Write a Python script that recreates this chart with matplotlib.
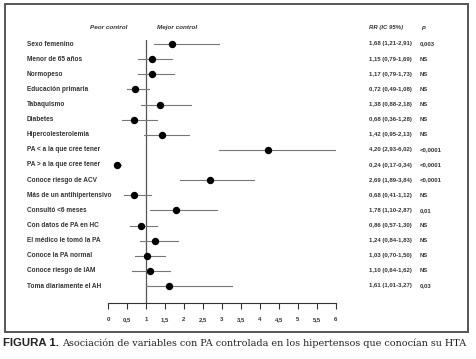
import matplotlib
matplotlib.use("Agg")
import matplotlib.pyplot as plt
from matplotlib.patches import Rectangle

labels = [
    "Sexo femenino",
    "Menor de 65 años",
    "Normopeso",
    "Educación primaria",
    "Tabaquismo",
    "Diabetes",
    "Hipercolesterolemia",
    "PA < a la que cree tener",
    "PA > a la que cree tener",
    "Conoce riesgo de ACV",
    "Más de un antihipertensivo",
    "Consultó <6 meses",
    "Con datos de PA en HC",
    "El médico le tomó la PA",
    "Conoce la PA normal",
    "Conoce riesgo de IAM",
    "Toma diariamente el AH",
]
rr = [1.68, 1.15, 1.17, 0.72, 1.38, 0.68, 1.42, 4.20, 0.24, 2.69,
      0.68, 1.78, 0.86, 1.24, 1.03, 1.10, 1.61]
lo = [1.21, 0.79, 0.79, 0.49, 0.88, 0.36, 0.95, 2.93, 0.17, 1.89,
      0.41, 1.10, 0.57, 0.84, 0.70, 0.64, 1.01]
hi = [2.91, 1.69, 1.73, 1.08, 2.18, 1.28, 2.13, 6.02, 0.34, 3.84,
      1.12, 2.87, 1.30, 1.83, 1.50, 1.62, 3.27]
pvals = ["0,003", "NS", "NS", "NS", "NS", "NS", "NS", "<0,0001", "<0,0001",
         "<0,0001", "NS", "0,01", "NS", "NS", "NS", "NS", "0,03"]
xticks = [0, 0.5, 1, 1.5, 2, 2.5, 3, 3.5, 4, 4.5, 5, 5.5, 6]
xticklabels = ["0", "0,5", "1", "1,5", "2", "2,5", "3", "3,5", "4", "4,5",
               "5", "5,5", "6"]


def fmt(v):
    return ("%.2f" % v).replace(".", ",")


W, H = 476, 359
fig = plt.figure(figsize=(W / 100, H / 100), dpi=100)

# axes placed in pixel terms: x 0 -> 108px, 6 -> 336px; rows 44px..286px
ax_l, ax_r = 108, 336
ax_t, ax_b = 40, 303
ax = fig.add_axes([ax_l / W, 1 - ax_b / H, (ax_r - ax_l) / W, (ax_b - ax_t) / H])
row_px = (286 - 44) / 16
ax.set_xlim(0, 6)
ax.set_ylim(16 + (ax_b - 286) / row_px, -(44 - ax_t) / row_px)
px = 6 / (ax_r - ax_l)  # data units per pixel in x


def xd(p):
    return (p - ax_l) * px


font = "Liberation Sans"
for s in ["top", "right", "left"]:
    ax.spines[s].set_visible(False)
ax.spines["bottom"].set_color("#333333")
ax.spines["bottom"].set_linewidth(0.8)
ax.set_yticks([])
ax.set_xticks(xticks)
ax.set_xticklabels(xticklabels, fontsize=4.3, family=font, fontweight="bold",
                   color="#333333")
ax.tick_params(axis="x", direction="out", length=4, width=0.8, pad=6,
               color="#333333")

ax.axvline(1, color="#555555", lw=0.9, zorder=1)

for i in range(len(labels)):
    ax.plot([lo[i], hi[i]], [i, i], color="#777777", lw=0.8, zorder=2)
    ax.plot(rr[i], i, "o", color="black", ms=4.3, zorder=3)
    ax.text(xd(27), i, labels[i], fontsize=4.7, family=font,
            fontweight="bold", color="#333333", va="center", ha="left",
            clip_on=False)
    ax.text(xd(369), i, "%s (%s-%s)" % (fmt(rr[i]), fmt(lo[i]), fmt(hi[i])),
            fontsize=4.3, family=font, fontweight="bold", color="#333333",
            va="center", ha="left", clip_on=False)
    ax.text(xd(420), i, pvals[i], fontsize=4.3, family=font,
            fontweight="bold", color="#333333", va="center", ha="left",
            clip_on=False)

hdr_y = -(44 - 27.5) / row_px
ax.text(xd(127), hdr_y, "Peor control", fontsize=4.6, family=font,
        fontweight="bold", style="italic", color="#333333", va="center",
        ha="right", clip_on=False)
ax.text(xd(157), hdr_y, "Mejor control", fontsize=4.6, family=font,
        fontweight="bold", style="italic", color="#333333", va="center",
        ha="left", clip_on=False)
ax.text(xd(369), hdr_y, "RR (IC 95%)", fontsize=4.3, family=font,
        fontweight="bold", style="italic", color="#333333", va="center",
        ha="left", clip_on=False)
ax.text(xd(421), hdr_y, "p", fontsize=4.6, family=font,
        fontweight="bold", style="italic", color="#333333", va="center",
        ha="left", clip_on=False)

# frame around the figure panel
fig.patches.append(Rectangle((5 / W, 1 - 332 / H), (468 - 5) / W, (332 - 4) / H,
                             transform=fig.transFigure, fill=False,
                             edgecolor="#555555", lw=1.4))

fig.text(3 / W, 1 - 343 / H, "FIGURA 1.", fontsize=8.2, family=font,
         fontweight="bold", color="#222222", va="center", ha="left")
fig.text(62 / W, 1 - 343 / H,
         "Asociación de variables con PA controlada en los hipertensos que conocían su HTA",
         fontsize=6.95, family="DejaVu Serif", color="#222222", va="center",
         ha="left")

fig.savefig("out.png", dpi=100)
